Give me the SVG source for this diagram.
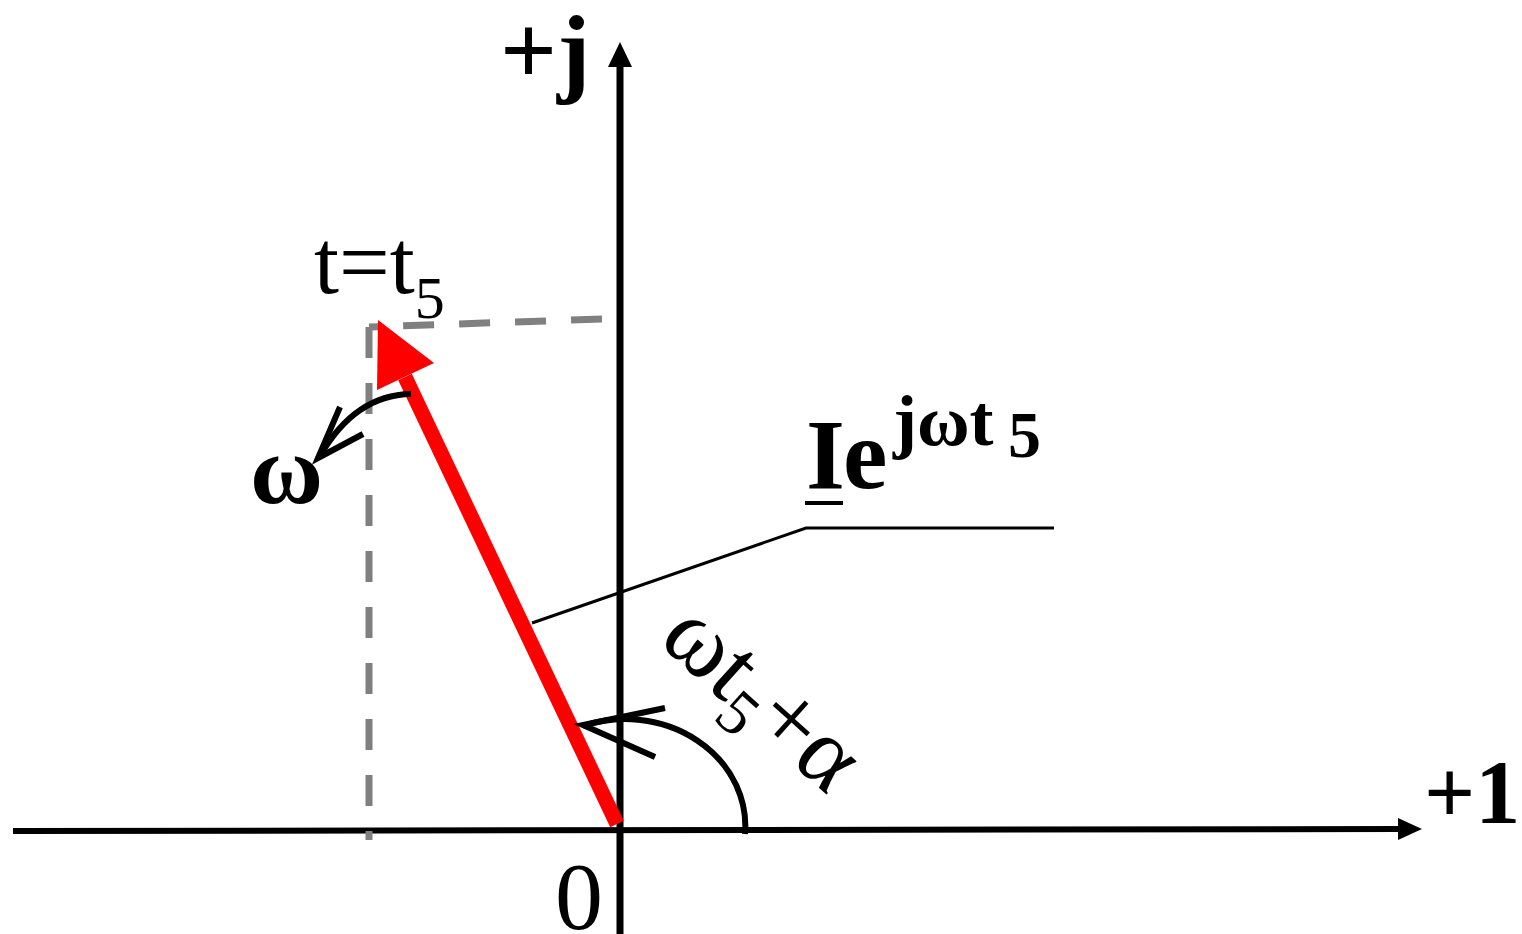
<svg xmlns="http://www.w3.org/2000/svg" width="1522" height="934" viewBox="0 0 1522 934">
<style>
.ax{stroke:#000;stroke-width:6;fill:none}
.dash{stroke:#808080;stroke-width:7;fill:none;stroke-dasharray:31 25}
.thin{stroke:#000;stroke-width:3;fill:none}
.blk{stroke:#000;stroke-width:6;fill:none;stroke-linecap:butt}
.t{font-family:"Liberation Serif","Times New Roman",serif;fill:#000}
.b{font-weight:bold}
</style>
<rect width="1522" height="934" fill="#fff"/>
<g id="axes">
<line class="ax" x1="13" y1="831" x2="1400" y2="829"/>
<polygon points="1422,829 1398,818 1398,840" fill="#000"/>
<line class="ax" x1="620" y1="934" x2="620" y2="64" style="stroke-width:7"/>
<polygon points="620,42 608,67 632,67" fill="#000"/>
</g>
<g id="projections">
<line class="dash" x1="602" y1="319" x2="369" y2="327"/>
<line class="dash" x1="369" y1="327" x2="369" y2="840"/>
</g>
<g id="phasor">
<line x1="617" y1="824" x2="405" y2="377" stroke="#ff0000" stroke-width="15"/>
<polygon points="378,320 434,363 377,390" fill="#ff0000"/>
</g>
<g id="connectors">
<polyline class="thin" points="532,623 806,528 1054,528"/>
<path class="blk" d="M411,394 Q355,395 320,456"/>
<polyline class="blk" points="340,407 318,458 363,434"/>
<path class="blk" d="M745,834 A120,107 0 0 0 583,726"/>
<polyline class="blk" points="665,708 583,725 655,757"/>
</g>
<g id="labels">
<text class="t b" x="500" y="84" font-size="100">+j</text>
<text class="t b" x="1424" y="823" font-size="90">+1</text>
<text class="t" x="314" y="293" font-size="90">t=t<tspan font-size="60" dy="25">5</tspan></text>
<text class="t" x="555" y="929" font-size="96">0</text>
<text class="t b" x="250" y="503" font-size="100">ω</text>
<text class="t b" x="806" y="488" font-size="100">I</text>
<text class="t b" x="843" y="488" font-size="100">e</text>
<line x1="805" y1="503" x2="843" y2="503" stroke="#000" stroke-width="4"/>
<text class="t b" x="893" y="445" font-size="72">jωt</text>
<text class="t b" x="1008" y="457" font-size="66">5</text>
<text class="t" transform="translate(657,642) rotate(42)" font-size="98">ωt<tspan font-size="64" dy="20">5</tspan><tspan dy="-20">+α</tspan></text>
</g>
</svg>
